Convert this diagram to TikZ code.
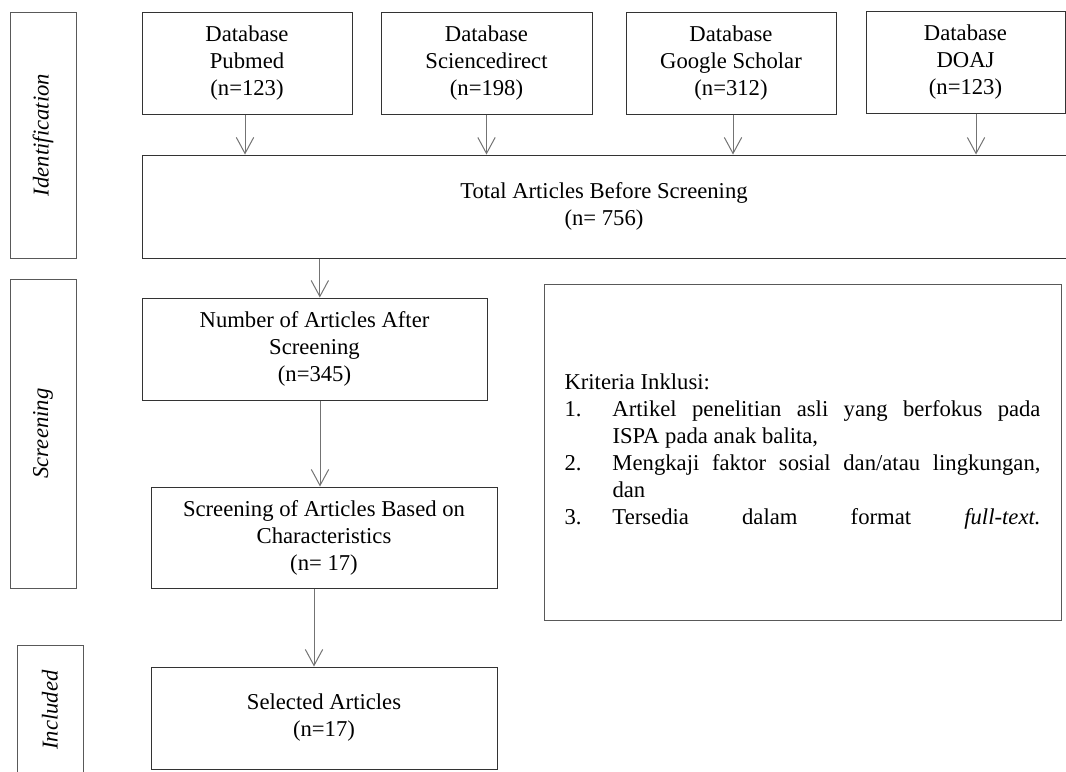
\documentclass[tikz,border=0pt]{standalone}
\usepackage{fontspec}
\setmainfont{Liberation Serif}
\usetikzlibrary{arrows.meta}

\begin{document}
\begin{tikzpicture}[x=0.75pt,y=-0.75pt,
	every node/.style={font=\fontsize{17}{20.25}\selectfont},
	box/.style={draw=black!80,line width=0.75pt,align=center,inner sep=2pt},
	side/.style={draw=black!65,line width=0.75pt,rotate=90,
		font=\fontsize{17}{20.25}\selectfont\itshape,minimum height=49.5pt},
	arr/.style={draw=black!55,line width=0.75pt,-{Straight Barb[length=12pt,width=13pt]}}]
	\useasboundingbox (0,0) rectangle (1066,771);
	
	% stages
	\node[side,minimum width=184.5pt] (ident) at (43,135) {Identification};
	\node[side,minimum width=231.75pt] (screen) at (43,433.5) {Screening};
	\node[side,minimum width=97.5pt] (incl) at (50,710) {Included};
	
	% databases
	\node[box,minimum width=157.5pt,minimum height=76.5pt] (pubmed) at (247,63) {Database\\Pubmed\\(n=123)};
	\node[box,minimum width=158.25pt,minimum height=76.5pt] (scidir) at (486.5,63) {Database\\Sciencedirect\\(n=198)};
	\node[box,minimum width=157.5pt,minimum height=76.5pt] (gscholar) at (731,63) {Database\\Google Scholar\\(n=312)};
	\node[box,minimum width=149.25pt,minimum height=76.5pt] (doaj) at (965.5,62) {Database\\DOAJ\\(n=123)};
	
	\node[box,minimum width=693pt,minimum height=77.25pt] (total) at (604,206.5) {Total Articles Before Screening\\(n= 756)};
	\node[box,minimum width=258.75pt,minimum height=76.5pt] (number) at (314.5,349) {Number of Articles After\\Screening\\(n=345)};
	\node[box,minimum width=259.5pt,minimum height=75.75pt] (charact) at (324,537.5) {Screening of Articles Based on\\Characteristics\\(n= 17)};
	\node[box,minimum width=259.5pt,minimum height=76.5pt] (selected) at (324,718) {Selected Articles\\(n=17)};
	
	\node[box,draw=black!65,align=justify,text width=357pt,minimum width=387.75pt,minimum height=252pt] (kriteria) at (802.5,452) {%
		Kriteria Inklusi:\par
		\noindent\hangindent=36pt\hangafter=1\makebox[36pt][l]{1.}Artikel penelitian asli yang berfokus pada\linebreak ISPA pada anak balita,\par
		\noindent\hangindent=36pt\hangafter=1\makebox[36pt][l]{2.}Mengkaji faktor sosial dan/atau lingkungan,\linebreak dan\par
		{\parfillskip=0pt\noindent\hangindent=36pt\hangafter=1\makebox[36pt][l]{3.}Tersedia dalam format \textit{full-text.}\par}};
	
	\draw[arr] ([xshift=-1.5pt]pubmed.south) -- ([xshift=-1.5pt]pubmed.south |- total.north);
	\draw[arr] (scidir.south) -- (scidir.south |- total.north);
	\draw[arr] ([xshift=1.5pt]gscholar.south) -- ([xshift=1.5pt]gscholar.south |- total.north);
	\draw[arr] ([xshift=7.9pt]doaj.south) -- ([xshift=7.9pt]doaj.south |- total.north);
	\draw[arr] ([xshift=4pt]number.north |- total.south) -- ([xshift=4pt]number.north);
	\draw[arr] ([xshift=-3pt]charact.north |- number.south) -- ([xshift=-3pt]charact.north);
	\draw[arr] ([xshift=-7.5pt]charact.south) -- ([xshift=-7.5pt]selected.north);
\end{tikzpicture}
\end{document}
